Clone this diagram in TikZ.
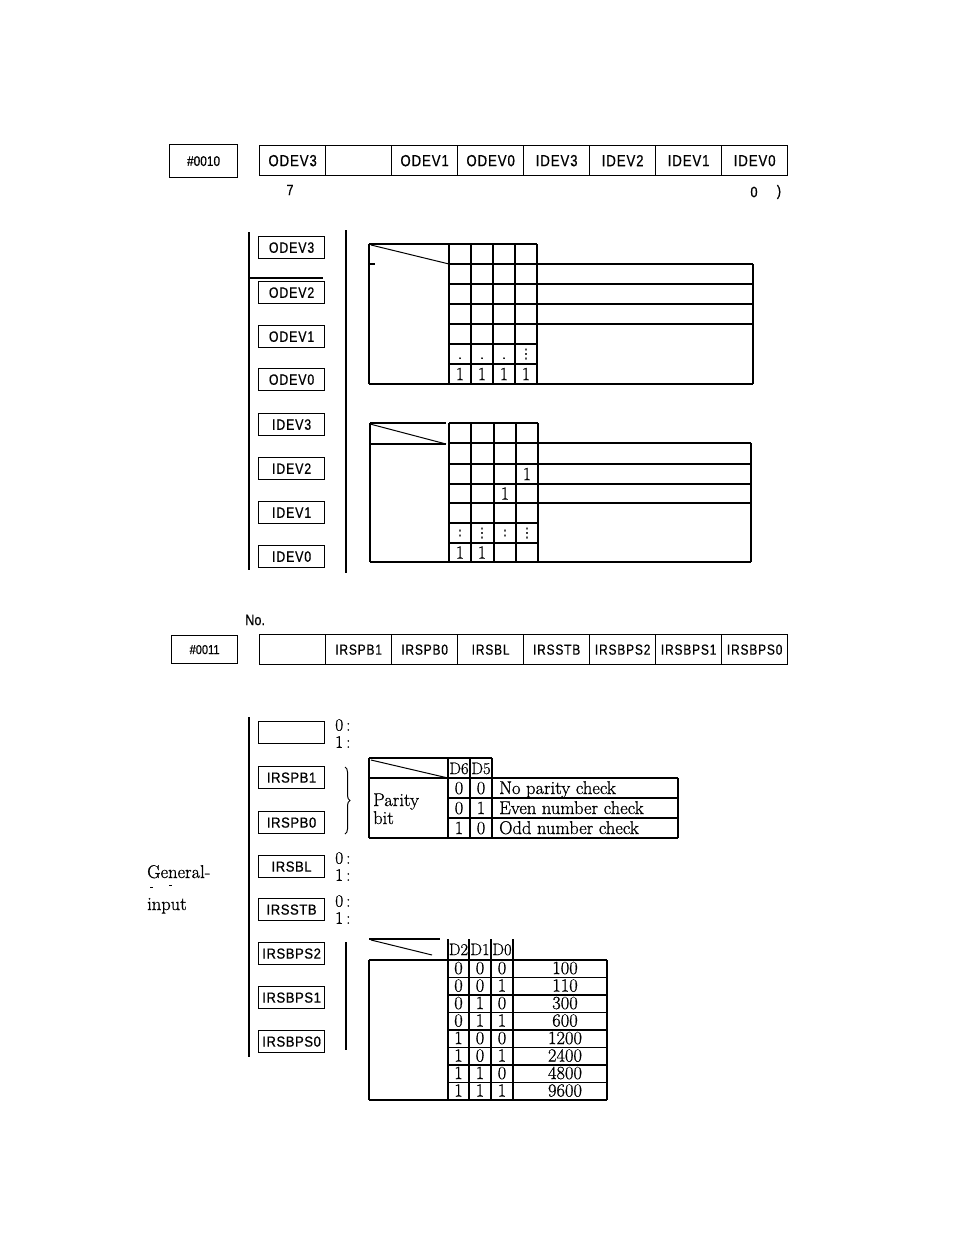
\documentclass[tikz,border=0pt]{standalone}
\usepackage{fontspec}
\newfontfamily\regf[FakeStretch=0.82,LetterSpace=6,FakeBold=0.6]{Liberation Sans}
\newfontfamily\numf[FakeStretch=0.85,FakeBold=0.6]{Liberation Sans}
\newfontfamily\boxf[FakeStretch=0.9,LetterSpace=4,FakeBold=0.8]{Liberation Sans}
\newfontfamily\serf[FakeBold=0.8]{Latin Modern Roman}
\newfontfamily\dejaf[FakeBold=0.8]{DejaVu Sans}
\usetikzlibrary{decorations.pathreplacing}
\tikzset{
  reg/.style={draw, line width=1.3pt, minimum width=66pt, minimum height=30pt, inner sep=0pt, anchor=north west, font=\regf\fontsize{16}{16}\selectfont},
  regb/.style={reg, font=\regf\fontsize{14.5}{15}\selectfont},
  numbox/.style={draw, line width=1.2pt, inner sep=0pt, anchor=north west, font=\numf\fontsize{14}{14}\selectfont},
  lbox/.style={draw, line width=1.2pt, minimum width=66pt, minimum height=22pt, inner sep=0pt, anchor=north west, font=\regf\fontsize{15}{15}\selectfont},
  lboxb/.style={lbox, font=\boxf\fontsize{14.5}{15}\selectfont},
  sanst/.style={inner sep=0pt, font=\numf\fontsize{15}{15}\selectfont},
  tl/.style={line width=1.2pt},
  tt/.style={inner sep=0pt, font=\serf\fontsize{18.5}{18.5}\selectfont},
  th/.style={inner sep=0pt, font=\serf\fontsize{16.5}{16.5}\selectfont},
  ts/.style={inner sep=0pt, font=\serf\fontsize{17.5}{17.5}\selectfont},
  vd/.style={inner sep=0pt, font=\dejaf\fontsize{13}{13}\selectfont},
}
\begin{document}
\begin{tikzpicture}[x=1pt,y=-1pt]
\useasboundingbox (0,0) rectangle (954,1239);
\fill[white] (0,0) rectangle (954,1239);

% ---------- register #0010 ----------
\node[numbox, minimum width=68pt, minimum height=33pt] (n10) at (169,144) {\#0010};
\node[reg] (a1) at (259,145) {ODEV3};
\node[reg] (a2) at (325,145) {};
\node[reg] (a3) at (391,145) {ODEV1};
\node[reg] (a4) at (457,145) {ODEV0};
\node[reg] (a5) at (523,145) {IDEV3};
\node[reg] (a6) at (589,145) {IDEV2};
\node[reg] (a7) at (655,145) {IDEV1};
\node[reg] (a8) at (721,145) {IDEV0};
\node[sanst] (b7) at (290,190) {7};
\node[sanst] (b0) at (754,192) {0};
\node[sanst] (bp) at (779,192) {)};

% ---------- left column upper ----------
\draw[tl] (249,232) -- (249,570);
\draw[tl] (249,278) -- (323,278);
\draw[tl] (346,230) -- (346,573);
\node[lbox] (o3) at (258,236) {ODEV3};
\node[lbox] (o2) at (258,281) {ODEV2};
\node[lbox] (o1) at (258,325) {ODEV1};
\node[lbox] (o0) at (258,368) {ODEV0};
\node[lbox] (i3) at (258,413) {IDEV3};
\node[lbox] (i2) at (258,457) {IDEV2};
\node[lbox] (i1) at (258,501) {IDEV1};
\node[lbox] (i0) at (258,545) {IDEV0};

% ---------- upper table ----------
\draw[tl] (369,244) -- (537,244);
\draw[line width=2pt] (369,244) -- (369,384);
\draw[line width=1pt] (371,245) -- (449,264);
\draw[tl] (369,264) -- (375,264);
\foreach \x in {449,471,493,515,537} \draw[tl] (\x,244) -- (\x,384);
\foreach \y in {264,284,304,324} \draw[tl] (449,\y) -- (753,\y);
\foreach \y in {344,364} \draw[tl] (449,\y) -- (537,\y);
\draw[tl] (753,264) -- (753,384);
\draw[tl] (369,384) -- (753,384);
\node[tt, anchor=base] (ud1) at (460,359) {.};
\node[tt, anchor=base] (ud2) at (482,359) {.};
\node[tt, anchor=base] (ud3) at (504,359) {.};
\node[vd] (ud4) at (526,354) {⋮};
\node[tt] (u11) at (460,374) {1};
\node[tt] (u12) at (482,374) {1};
\node[tt] (u13) at (504,374) {1};
\node[tt] (u14) at (526,374) {1};

% ---------- lower table ----------
\draw[tl] (370,423) -- (446,423);
\draw[tl] (449,423) -- (538,423);
\draw[line width=1.6pt] (370,423) -- (370,562);
\draw[line width=1pt] (370,424) -- (446,444);
\draw[tl] (370,444) -- (446,444);
\foreach \x in {449,471,494,516,538} \draw[tl] (\x,423) -- (\x,562);
\foreach \y in {443,464,484,503} \draw[tl] (449,\y) -- (751,\y);
\foreach \y in {523,543} \draw[tl] (449,\y) -- (538,\y);
\draw[line width=1.6pt] (751,443) -- (751,562);
\draw[line width=1.6pt] (370,562) -- (751,562);
\node[tt] (l1) at (527,474) {1};
\node[tt] (l2) at (505,493.5) {1};
\node[vd] (lc1) at (460,533) {:};
\node[vd] (lc2) at (482,533) {⋮};
\node[vd] (lc3) at (505,533) {:};
\node[vd] (lc4) at (527,533) {⋮};
\node[tt] (l3) at (460,552.5) {1};
\node[tt] (l4) at (482,552.5) {1};

% ---------- register #0011 ----------
\node[sanst, anchor=west] (no) at (245,620) {No.};
\node[numbox, minimum width=66pt, minimum height=28pt, font=\numf\fontsize{13}{13}\selectfont] (n11) at (171,635) {\#0011};
\node[regb] (c1) at (259,634) {};
\node[regb] (c2) at (325,634) {IRSPB1};
\node[regb] (c3) at (391,634) {IRSPB0};
\node[regb] (c4) at (457,634) {IRSBL};
\node[regb] (c5) at (523,634) {IRSSTB};
\node[regb] (c6) at (589,634) {IRSBPS2};
\node[regb] (c7) at (655,634) {IRSBPS1};
\node[regb] (c8) at (721,634) {IRSBPS0};

% ---------- left column lower ----------
\draw[tl] (249,717) -- (249,1057);
\node[lboxb] (e0) at (258,721) {};
\node[lboxb] (p1) at (258,766) {IRSPB1};
\node[lboxb] (p0) at (258,811) {IRSPB0};
\node[lboxb] (bl) at (258,855) {IRSBL};
\node[lboxb] (st) at (258,898) {IRSSTB};
\node[lboxb] (s2) at (258,942) {IRSBPS2};
\node[lboxb] (s1) at (258,986) {IRSBPS1};
\node[lboxb] (s0) at (258,1030) {IRSBPS0};

\node[ts, anchor=west] (e0a) at (335,725) {0\,:};
\node[ts, anchor=west] (e0b) at (335,742) {1\,:};
\node[ts, anchor=west] (bla) at (335,858) {0\,:};
\node[ts, anchor=west] (blb) at (335,875) {1\,:};
\node[ts, anchor=west] (sta) at (335,901) {0\,:};
\node[ts, anchor=west] (stb) at (335,918) {1\,:};

\draw[line width=1pt, decorate, decoration={brace, amplitude=5pt}] (345,767) -- (345,834);

\node[tt, anchor=base west] (gen) at (147,878) {General-};
\node[tt, anchor=base west] (inp) at (147,910) {input};
\draw[line width=0.8pt] (150,887) -- (153,887);
\draw[line width=0.8pt] (169,885) -- (172,885);

% ---------- parity table ----------
\draw[tl] (369,758) -- (492,758);
\draw[tl] (369,758) -- (369,838);
\draw[line width=1pt] (371,760) -- (448,778);
\draw[tl] (369,778) -- (678,778);
\foreach \x in {448,470,492} \draw[tl] (\x,758) -- (\x,838);
\draw[tl] (678,778) -- (678,838);
\foreach \y in {798,818} \draw[tl] (448,\y) -- (678,\y);
\draw[tl] (369,838) -- (678,838);
\node[th, anchor=base] (pd6) at (459,774) {D6};
\node[th, anchor=base] (pd5) at (481,774) {D5};
\node[tt, anchor=base] (pa1) at (459,794) {0};
\node[tt, anchor=base] (pb1) at (481,794) {0};
\node[tt, anchor=base west] (pt1) at (499,794) {No parity check};
\node[tt, anchor=base] (pa2) at (459,814) {0};
\node[tt, anchor=base] (pb2) at (481,814) {1};
\node[tt, anchor=base west] (pt2) at (499,814) {Even number check};
\node[tt, anchor=base] (pa3) at (459,834) {1};
\node[tt, anchor=base] (pb3) at (481,834) {0};
\node[tt, anchor=base west] (pt3) at (499,834) {Odd number check};
\node[tt, anchor=base west] (par) at (373,806) {Parity};
\node[tt, anchor=base west] (bit) at (373,824) {bit};

% ---------- baud table ----------
\draw[line width=2pt] (346,942) -- (346,1050);
\draw[tl] (369,939) -- (440,939);
\draw[line width=1pt] (371,940) -- (432,955);
\draw[line width=2pt] (369,960) -- (448,960);
\draw[tl] (448,960) -- (607,960);
\draw[tl] (369,960) -- (369,1100);
\foreach \x in {448,469,491,513} \draw[tl] (\x,939) -- (\x,1100);
\draw[tl] (607,960) -- (607,1100);
\foreach \y in {977.5,995,1012.5,1030,1047.5,1065,1082.5} \draw[tl] (448,\y) -- (607,\y);
\draw[tl] (369,1100) -- (607,1100);
\node[th, anchor=base] (hd2) at (458.5,955) {D2};
\node[th, anchor=base] (hd1) at (480,955) {D1};
\node[th, anchor=base] (hd0) at (502,955) {D0};
\foreach \b/\c/\d/\v [count=\i from 0] in {0/0/0/100,0/0/1/110,0/1/0/300,0/1/1/600,1/0/0/1200,1/0/1/2400,1/1/0/4800,1/1/1/9600}{
  \pgfmathsetmacro{\yy}{960+17.5*\i+14}
  \node[tt, anchor=base] (bb\i) at (458.5,\yy) {\b};
  \node[tt, anchor=base] (bc\i) at (480,\yy) {\c};
  \node[tt, anchor=base] (bd\i) at (502,\yy) {\d};
  \node[tt, anchor=base] (bv\i) at (565,\yy) {\v};
}
\end{tikzpicture}
\end{document}
